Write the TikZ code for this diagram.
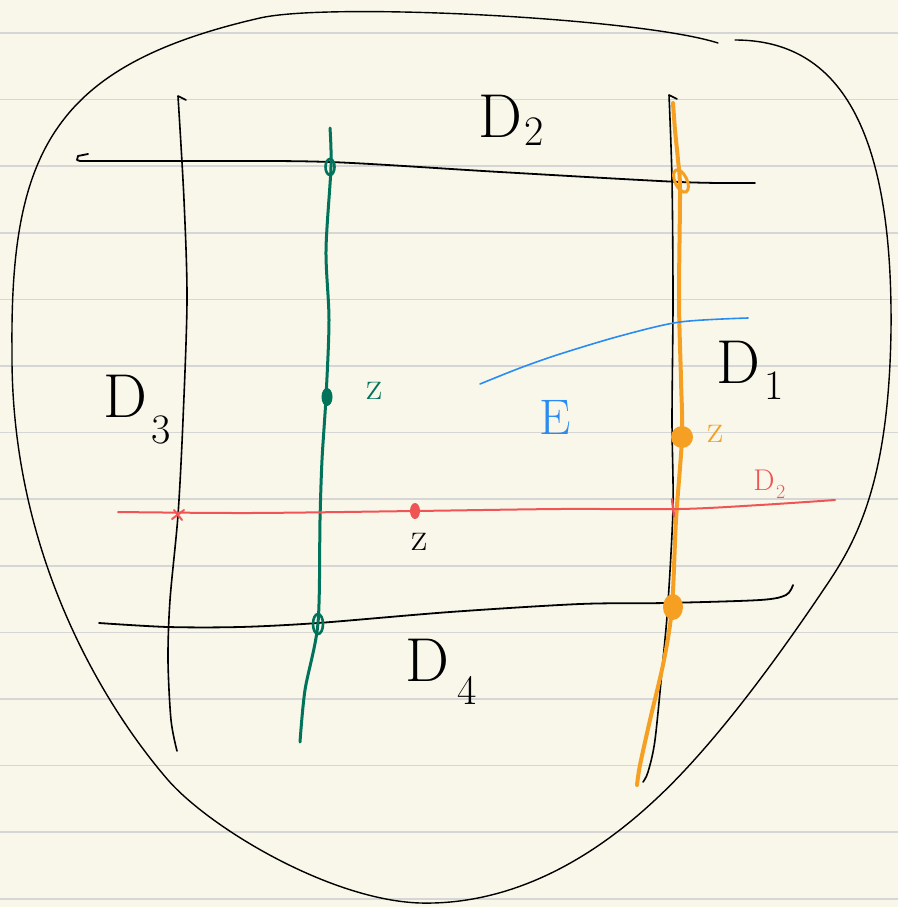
\documentclass[tikz,border=0pt]{standalone}
\usepackage{tikz}
\definecolor{paper}{HTML}{F8F7EA}
\definecolor{rule}{HTML}{D6D6D6}
\definecolor{pgreen}{HTML}{00735A}
\definecolor{porange}{HTML}{F5A023}
\definecolor{pred}{HTML}{F05555}
\definecolor{pblue}{HTML}{2A8CF0}
\tikzset{
  ink/.style={line cap=round, line join=round},
  bigtxt/.style={inner sep=0pt, font=\fontsize{62}{62}\selectfont},
  subtxt/.style={inner sep=0pt, font=\fontsize{42}{42}\selectfont},
  smalltxt/.style={inner sep=0pt, font=\fontsize{40}{40}\selectfont},
}
\begin{document}
\begin{tikzpicture}[x=1pt,y=-1pt]
\fill[paper] (0,0) rectangle (898,907);
\useasboundingbox (0,0) rectangle (898,907);
\foreach \k in {0,...,13} {
  \draw[rule, line width=1.6pt] (0,{33+66.6*\k}) -- (898,{33+66.6*\k});
}
% outline
\draw[ink, line width=1.4pt] (735,40) .. controls (840,40) and (893,130) .. (891,330)
  .. controls (889,470) and (862,532) .. (830,580)
  .. controls (790,640) and (720,740) .. (655,800)
  .. controls (580,870) and (500,905) .. (420,903)
  .. controls (330,900) and (210,828) .. (168,780)
  .. controls (110,713) and (10,560) .. (12,350)
  .. controls (10,150) and (55,65) .. (260,18)
  .. controls (330,2) and (640,18) .. (718,43);
% black left vertical
\draw[ink, line width=1.6pt] (186,100) -- (178,96) plot[smooth] coordinates {(178,96) (184,200) (187,300) (183,420) (178,515) (170,600) (168,660) (171,720) (177,751)};
% top horizontal
\draw[ink, line width=1.8pt] (88,154) -- (78,156) -- (77,160) -- (80,161) plot[smooth] coordinates {(80,161) (200,161) (330,162) (500,172) (680,182) (755,183)};
% right black vertical
\draw[ink, line width=1.6pt] (677,99) -- (669,95) plot[smooth] coordinates {(669,95) (672,180) (673,300) (672,420) (673,507) (668,603) (663,660) (655,740) (648,772) (643,782)};
% bottom horizontal
\draw[ink, line width=1.8pt] plot[smooth] coordinates {(99,623) (168,627) (240,627) (318,623) (450,612) (580,604) (665,603) (760,600) (786,595) (793,585)};
% green vertical
\draw[ink, pgreen, line width=3pt] plot[smooth] coordinates {(330,128) (331,167) (326,250) (329,320) (326,397) (322,460) (320,520) (318,623) (305,690) (300,742)};
\draw[pgreen, line width=2.6pt] (330,167) ellipse [x radius=4.5, y radius=8];
\fill[pgreen] (327,397) ellipse [x radius=5.5, y radius=9];
\draw[pgreen, line width=2.6pt] (318,624) ellipse [x radius=5, y radius=10];
% orange vertical
\draw[ink, porange, line width=4pt] plot[smooth] coordinates {(673,103) (675,130) (678,160) (680,190) (679,300) (681,380) (682,437) (676,520) (672,607) (664,660) (650,720) (640,765) (637,785)};
\draw[porange, line width=3pt, rotate around={25:(681,181)}] (681,181) ellipse [x radius=6, y radius=12];
\fill[porange] (682,437) ellipse [x radius=11, y radius=11];
\fill[porange] (673,607) ellipse [x radius=10, y radius=13];
% red horizontal
\draw[ink, pred, line width=2pt] plot[smooth] coordinates {(118,512) (250,513) (415,511) (560,509) (680,509) (760,505) (835,500)};
\draw[ink, pred, line width=2pt] (172,519) -- (184,510) (174,510) -- (182,520);
\fill[pred] (415,511) ellipse [x radius=5, y radius=8];
\draw[ink, pred, line width=2.4pt] (672,499) -- (674,516);
% blue curve
\draw[ink, pblue, line width=1.6pt] plot[smooth] coordinates {(480,384) (520,368) (560,354) (620,336) (680,322) (748,318)};
% labels
\node[bigtxt] (d2) at (500,116) {D};
\node[subtxt, anchor=west] (d2s) at (524,132) {2};
\node[bigtxt] (d1) at (738,362) {D};
\node[subtxt, anchor=west] (d1s) at (764,386) {1};
\node[bigtxt] (d3) at (125,396) {D};
\node[subtxt, anchor=west] (d3s) at (151,430) {3};
\node[bigtxt] (d4) at (427,660) {D};
\node[subtxt, anchor=west] (d4s) at (457,690) {4};
\node[smalltxt, text=pgreen] (zg) at (375,391) {z};
\node[smalltxt, text=porange] (zo) at (716,434) {z};
\node[smalltxt] (zb) at (420,542) {z};
\node[inner sep=0pt, font=\fontsize{50}{50}\selectfont, text=pblue] (e) at (555,417) {E};
\node[inner sep=0pt, font=\fontsize{30}{30}\selectfont, text=pred] (dr) at (764,480) {D};
\node[inner sep=0pt, font=\fontsize{20}{20}\selectfont, text=pred, anchor=west] (drs) at (776,492) {2};
\end{tikzpicture}
\end{document}
